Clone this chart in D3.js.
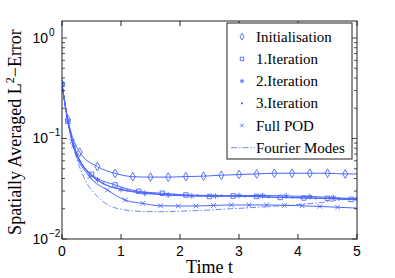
<!DOCTYPE html>
<html>
<head>
<meta charset="utf-8">
<script src="https://cdn.jsdelivr.net/npm/d3@7"></script>
<style>
    body { margin: 0; background: #fff; }
    svg { display: block; }
    .tick-label { font-family: "Liberation Sans", Arial, sans-serif; font-size: 14px; fill: #000; }
    .axis-title { font-family: "Liberation Serif", "Times New Roman", serif; font-size: 18px; fill: #000; }
    .legend-text { font-family: "Liberation Serif", "Times New Roman", serif; font-size: 15px; fill: #000; }
</style>
</head>
<body>
<div id="chart"></div>
<script>
// data (marker points + extra line-only points)
const initT = [0, 0.1, 0.3, 0.6, 0.9, 1.2, 1.5, 1.8, 2.1, 2.4, 2.7, 3.0, 3.3, 3.6, 3.9, 4.2, 4.5, 4.8];
const initV = [0.346, 0.155, 0.073, 0.0525, 0.045, 0.0417, 0.0413, 0.0413, 0.0418, 0.0422, 0.0431, 0.0438, 0.0444, 0.0451, 0.0451, 0.0451, 0.0451, 0.0444];
const initExtraT = [5];
const initExtraV = [0.0444];

const it1T = [0, 0.1, 0.5, 0.9, 1.3, 1.7, 2.1, 2.5, 2.9, 3.3, 3.7, 4.1, 4.5, 4.9];
const it1V = [0.346, 0.148, 0.044, 0.0345, 0.0298, 0.0285, 0.0274, 0.0265, 0.0268, 0.0265, 0.0259, 0.0256, 0.0254, 0.0248];
const it1ExtraT = [0.2, 5];
const it1ExtraV = [0.085, 0.025];

const it2T = [0, 0.2, 0.6, 1.0, 1.4, 1.8, 2.2, 2.6, 3.0, 3.4, 3.8, 4.2, 4.6, 5.0];
const it2V = [0.346, 0.084, 0.0387, 0.0311, 0.0285, 0.0274, 0.0268, 0.0268, 0.0271, 0.0271, 0.0268, 0.0265, 0.0259, 0.025];
const it2ExtraT = [0.1];
const it2ExtraV = [0.15];

const it3T = [0, 0.3, 0.7, 1.1, 1.5, 1.9, 2.3, 2.7, 3.1, 3.5, 3.9, 4.3, 4.7];
const it3V = [0.346, 0.06, 0.0357, 0.0304, 0.0285, 0.0274, 0.0272, 0.027, 0.0266, 0.0261, 0.0259, 0.0254, 0.025];
const it3ExtraT = [0.1, 0.2, 5];
const it3ExtraV = [0.15, 0.085, 0.0247];

const podT = [0, 0.17, 0.47, 0.77, 1.07, 1.37, 1.67, 1.97, 2.27, 2.57, 2.87, 3.17, 3.47, 3.77, 4.07, 4.37, 4.67];
const podV = [0.346, 0.093, 0.0415, 0.0307, 0.0244, 0.0226, 0.0214, 0.0213, 0.0213, 0.0216, 0.0218, 0.0218, 0.0218, 0.0216, 0.0214, 0.0211, 0.0207];
const podExtraT = [0.08, 5];
const podExtraV = [0.17, 0.0203];

const fourierT = [0, 0.1, 0.2, 0.4, 0.6, 0.8, 1.0, 1.2, 1.6, 2.0, 2.4, 2.8, 3.2, 3.6, 4.0, 4.4, 4.8, 5.0];
const fourierV = [0.346, 0.15, 0.08, 0.038, 0.0265, 0.0215, 0.0198, 0.019, 0.0187, 0.0189, 0.0193, 0.0199, 0.0205, 0.0212, 0.022, 0.0231, 0.0248, 0.0254];

const seriesNames = ["Initialisation", "1.Iteration", "2.Iteration", "3.Iteration", "Full POD", "Fourier Modes"];
const xTicks = [0, 1, 2, 3, 4, 5];
const yMajor = [0.01, 0.1, 1];

const width = 395, height = 278;
const margin = {top: 21, right: 38, bottom: 39, left: 62};
const blue = "#4a66ff";
const serif = "'Liberation Serif', 'Times New Roman', serif";

const svg = d3.select("#chart").append("svg")
    .attr("width", width)
    .attr("height", height);

const x = d3.scaleLinear()
    .domain([0, 5])
    .range([margin.left, width - margin.right]);

const y = d3.scaleLog()
    .domain([0.01, 1.476])
    .range([height - margin.bottom, margin.top]);

const zip = (t, v) => t.map((d, i) => ({t: d, v: v[i]}));
const lineData = (t, v, et, ev) => zip(t, v).concat(zip(et, ev)).sort((a, b) => a.t - b.t);

const series = [
    {name: seriesNames[0], marks: zip(initT, initV), line: lineData(initT, initV, initExtraT, initExtraV), symbol: d3.symbolDiamond, size: 22},
    {name: seriesNames[1], marks: zip(it1T, it1V), line: lineData(it1T, it1V, it1ExtraT, it1ExtraV), symbol: d3.symbolSquare, size: 20},
    {name: seriesNames[2], marks: zip(it2T, it2V), line: lineData(it2T, it2V, it2ExtraT, it2ExtraV), symbol: d3.symbolAsterisk, size: 22},
    {name: seriesNames[3], marks: zip(it3T, it3V), line: lineData(it3T, it3V, it3ExtraT, it3ExtraV), symbol: "dot", size: 0},
    {name: seriesNames[4], marks: zip(podT, podV), line: lineData(podT, podV, podExtraT, podExtraV), symbol: d3.symbolTimes, size: 16},
    {name: seriesNames[5], marks: [], line: zip(fourierT, fourierV), symbol: null, dash: "6,2,1.5,2"}
];

const line = d3.line()
    .x(d => x(d.t))
    .y(d => y(d.v))
    .curve(d3.curveMonotoneX);

const plotW = x.range()[1] - x.range()[0];
const plotH = y.range()[0] - y.range()[1];

// clip for curves
svg.append("clipPath").attr("id", "clip")
    .append("rect")
    .attr("x", margin.left).attr("y", margin.top)
    .attr("width", plotW).attr("height", plotH);

// curves
const plot = svg.append("g").attr("clip-path", "url(#clip)");

series.forEach(s => {
    plot.append("path")
        .attr("d", line(s.line))
        .attr("fill", "none")
        .attr("stroke", blue)
        .attr("stroke-width", s.dash ? 0.8 : 1)
        .attr("stroke-dasharray", s.dash || null);
});

function drawMarker(g, s, cx, cy) {
    if (s.symbol === "dot") {
        g.append("circle").attr("cx", cx).attr("cy", cy).attr("r", 1.1).attr("fill", blue);
    } else if (s.symbol) {
        g.append("path")
            .attr("d", d3.symbol(s.symbol, s.size)())
            .attr("transform", `translate(${cx},${cy})`)
            .attr("fill", "none")
            .attr("stroke", blue)
            .attr("stroke-width", 0.9);
    }
}

series.forEach(s => {
    s.marks.forEach(d => drawMarker(plot, s, x(d.t), y(d.v)));
});

// frame and ticks
const axisColor = "#222";
const frame = svg.append("g");
frame.append("rect")
    .attr("x", margin.left).attr("y", margin.top)
    .attr("width", plotW).attr("height", plotH)
    .attr("fill", "none").attr("stroke", axisColor).attr("stroke-width", 1);

const tickLen = 5;
xTicks.forEach(t => {
    frame.append("line")
        .attr("x1", x(t)).attr("x2", x(t))
        .attr("y1", y.range()[0]).attr("y2", y.range()[0] - tickLen)
        .attr("stroke", axisColor);
    frame.append("line")
        .attr("x1", x(t)).attr("x2", x(t))
        .attr("y1", y.range()[1]).attr("y2", y.range()[1] + tickLen)
        .attr("stroke", axisColor);
    frame.append("text")
        .attr("class", "tick-label")
        .attr("x", x(t))
        .attr("y", y.range()[0] + 17)
        .attr("text-anchor", "middle")
        .text(t);
});

// log ticks (major + minor), inward on both sides
y.ticks().forEach(v => {
    const major = yMajor.includes(+v.toPrecision(3));
    const len = major ? tickLen : 3;
    frame.append("line")
        .attr("x1", x.range()[0]).attr("x2", x.range()[0] + len)
        .attr("y1", y(v)).attr("y2", y(v))
        .attr("stroke", axisColor).attr("stroke-width", 0.8);
    frame.append("line")
        .attr("x1", x.range()[1]).attr("x2", x.range()[1] - len)
        .attr("y1", y(v)).attr("y2", y(v))
        .attr("stroke", axisColor).attr("stroke-width", 0.8);
});

yMajor.forEach(v => {
    const p = Math.round(Math.log10(v));
    frame.append("text")
        .attr("class", "tick-label")
        .attr("x", x.range()[0] - 14)
        .attr("y", y(v) + 5)
        .attr("text-anchor", "end")
        .text("10");
    frame.append("text")
        .attr("class", "tick-label")
        .style("font-size", "10px")
        .attr("x", x.range()[0] - 13)
        .attr("y", y(v) - 2)
        .text(p === 0 ? "0" : "\u2212" + (-p));
});

// axis titles
svg.append("text")
    .attr("class", "axis-title")
    .attr("x", (x.range()[0] + x.range()[1]) / 2)
    .attr("y", 273)
    .attr("text-anchor", "middle")
    .text("Time t");

const yTitle = svg.append("text")
    .attr("class", "axis-title")
    .attr("transform", `translate(21,${(y.range()[0] + y.range()[1]) / 2 + 2}) rotate(-90)`)
    .attr("text-anchor", "middle");
yTitle.append("tspan").text("Spatially Averaged L");
yTitle.append("tspan").attr("dy", -7).style("font-size", "12px").text("2");
yTitle.append("tspan").attr("dy", 7).text("\u2212Error");

// legend
const legend = svg.append("g");
const legX = 227, legY = 23, legW = 125, legH = 136, legStep = 22.2, legFirst = 36.7;
legend.append("rect")
    .attr("x", legX).attr("y", legY)
    .attr("width", legW).attr("height", legH)
    .attr("fill", "#fff").attr("stroke", axisColor).attr("stroke-width", 1);

series.forEach((s, i) => {
    const cy = legFirst + i * legStep;
    if (s.dash) {
        legend.append("line")
            .attr("x1", 231).attr("x2", 255)
            .attr("y1", cy).attr("y2", cy)
            .attr("stroke", blue).attr("stroke-width", 0.8).attr("stroke-dasharray", s.dash);
    } else {
        drawMarker(legend, Object.assign({}, s, {size: s.size * 0.6}), 242, cy);
    }
    legend.append("text")
        .attr("class", "legend-text")
        .attr("font-family", serif)
        .style("font-family", serif)
        .attr("x", 256)
        .attr("y", cy + 5)
        .text(s.name);
});
</script>
</body>
</html>
